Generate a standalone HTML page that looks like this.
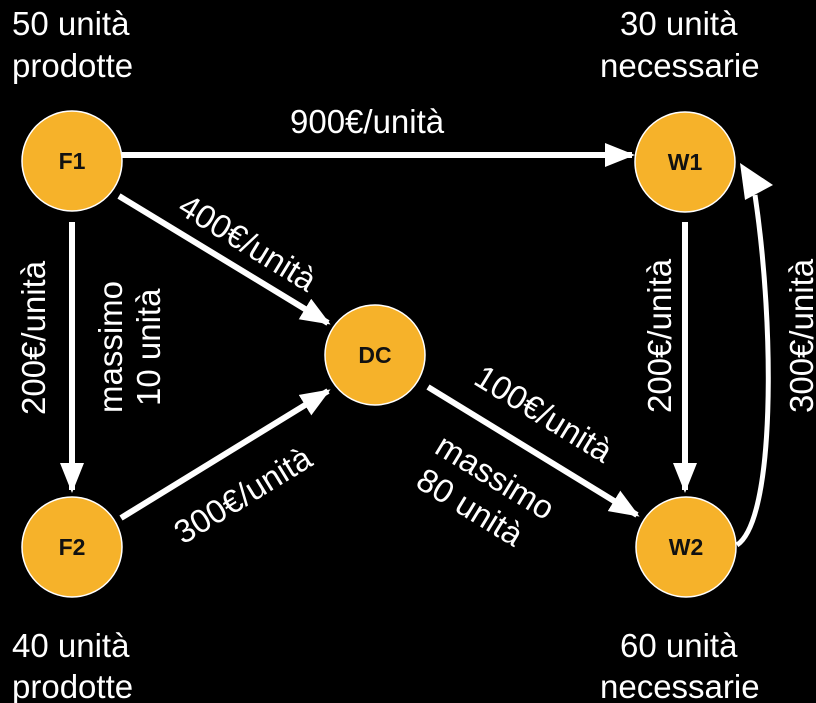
<!DOCTYPE html>
<html><head><meta charset="utf-8"><style>
html,body{margin:0;padding:0;background:#000;}
svg{display:block;}
text{font-family:"Liberation Sans",Arial,sans-serif;fill:#fff;}
.n{fill:#F6B22A;stroke:#fff;stroke-width:1.5;}
.nl{font-weight:bold;font-size:23px;fill:#111;text-anchor:middle;}
.e{stroke:#fff;stroke-width:6;fill:none;}
.t{font-size:33px;}
.l{font-size:33px;}
</style></head><body>
<svg width="816" height="703" viewBox="0 0 816 703">
<defs>
<marker id="ah" markerWidth="5" markerHeight="4" refX="4.5" refY="2" orient="auto" markerUnits="strokeWidth">
<path d="M0,0 L5,2 L0,4 Z" fill="#fff"/></marker>
</defs>
<rect width="816" height="703" fill="#000"/>
<g>
<line class="e" x1="122" y1="155" x2="632" y2="155" marker-end="url(#ah)"/>
<line class="e" x1="119" y1="196" x2="328" y2="323" marker-end="url(#ah)"/>
<line class="e" x1="72" y1="222" x2="72" y2="490" marker-end="url(#ah)"/>
<line class="e" x1="121" y1="518" x2="328" y2="391" marker-end="url(#ah)"/>
<line class="e" x1="428" y1="387" x2="637" y2="515" marker-end="url(#ah)"/>
<line class="e" x1="685" y1="222" x2="685" y2="490" marker-end="url(#ah)"/>
<path class="e" style="stroke-width:5" d="M737,545 C775,520 775,330 755,195"/>
<path d="M740,163 L773,185 L745,200 Z" fill="#fff"/>
</g>
<g>
<circle class="n" cx="72" cy="161" r="50"/>
<text class="nl" x="72" y="169">F1</text>
<circle class="n" cx="685" cy="162" r="50"/>
<text class="nl" x="685" y="170">W1</text>
<circle class="n" cx="375" cy="355" r="50"/>
<text class="nl" x="375" y="363">DC</text>
<circle class="n" cx="72" cy="547" r="50"/>
<text class="nl" x="72" y="555">F2</text>
<circle class="n" cx="686" cy="547" r="50"/>
<text class="nl" x="686" y="555">W2</text>
</g>
<g>
<text class="t" x="12" y="35">50 unità</text>
<text class="t" x="12" y="77">prodotte</text>
<text class="t" x="620" y="35">30 unità</text>
<text class="t" x="600" y="77">necessarie</text>
<text class="t" x="12" y="657">40 unità</text>
<text class="t" x="12" y="698">prodotte</text>
<text class="t" x="620" y="657">60 unità</text>
<text class="t" x="600" y="698">necessarie</text>
</g>
<g>
<text class="l" x="290" y="133">900€/unità</text>
<text class="l" transform="translate(176,212) rotate(31.5)">400€/unità</text>
<text class="l" transform="translate(45,415) rotate(-90)">200€/unità</text>
<text class="l" transform="translate(122,413) rotate(-90)">massimo</text>
<text class="l" transform="translate(160,406) rotate(-90)">10 unità</text>
<text class="l" transform="translate(183,545) rotate(-31.5)">300€/unità</text>
<text class="l" transform="translate(472,383) rotate(31.5)">100€/unità</text>
<text class="l" transform="translate(433,452) rotate(31.5)">massimo</text>
<text class="l" transform="translate(414,486) rotate(31.5)">80 unità</text>
<text class="l" transform="translate(671,413) rotate(-90)">200€/unità</text>
<text class="l" transform="translate(813,413) rotate(-90)">300€/unità</text>
</g>
</svg>
</body></html>
